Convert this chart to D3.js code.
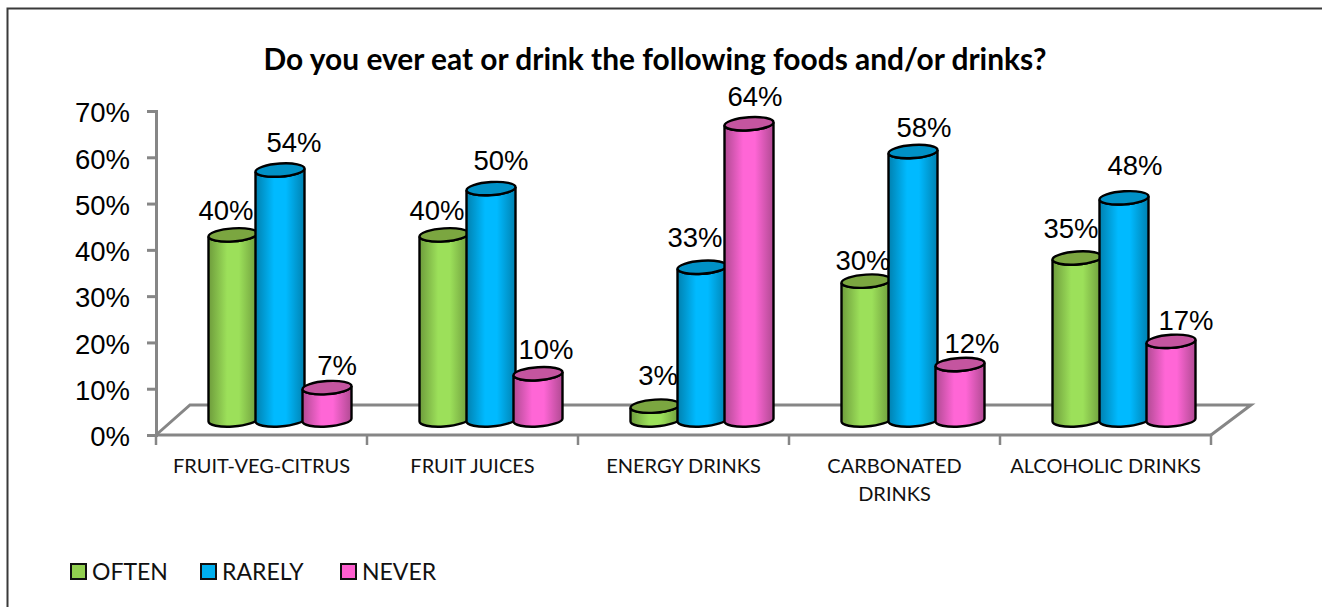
<!DOCTYPE html>
<html><head><meta charset="utf-8">
<script src="https://cdnjs.cloudflare.com/ajax/libs/d3/7.8.5/d3.min.js"></script>
<style>html,body{margin:0;padding:0;background:#fff;overflow:hidden}svg{display:block}</style>
</head><body><svg id="c" width="1322" height="607"></svg>
<script>
const titleText = "Do you ever eat or drink the following foods and/or drinks?";
const categories = ["FRUIT-VEG-CITRUS","FRUIT JUICES","ENERGY DRINKS","CARBONATED DRINKS","ALCOHOLIC DRINKS"];
const seriesNames = ["OFTEN","RARELY","NEVER"];
const often = [40,40,3,30,35];
const rarely = [54,50,33,58,48];
const never = [7,10,64,12,17];
const yTicks = [0,10,20,30,40,50,60,70];

const seriesValues = [often, rarely, never];
const palettes = [
  {id:"g", edge:"#6e9c3c", mid:"#9ce05a", top:"#7ba640", swatch:"#92d050"},
  {id:"b", edge:"#0081b0", mid:"#00baff", top:"#0091c6", swatch:"#00b0f0"},
  {id:"p", edge:"#b04a92", mid:"#ff66d6", top:"#c4559f", swatch:"#ff5fd0"}
];
// hand-placed data labels in the original: [dx, dy] from the top of each cylinder, per series then category
const labelNudge = [
  [[-7,-25],[-7,-25],[3,-31],[-3,-21],[-6,-30]],
  [[14,-28],[10,-28],[-7,-30],[11,-24],[11,-33]],
  [[10,-23],[8,-25],[6,-28],[12,-21],[15,-21]]
];

const svg = d3.select("#c");
const axisCol = "#868686";
const x0 = 156, x1 = 1211, y0 = 435, y70 = 111;
const depthX = 40, floorRise = 30, floorInset = 34;
const barStep = 47, barW = 49, rise = 15, ry = 6.5, tilt = 1.6;

const x = d3.scaleBand().domain(categories).range([x0, x1]);
const y = d3.scaleLinear().domain([0,70]).range([y0, y70]);
const xs = d3.scaleLinear().domain([0,2]).range([-barStep, barStep]);
const groupShift = 18.5;

// frame
svg.append("path").attr("d","M7.5,607V8.5H1322").attr("fill","none").attr("stroke","#3a3a3a").attr("stroke-width",2);

// gradients
const defs = svg.append("defs");
palettes.forEach(p=>{
  const g = defs.append("linearGradient").attr("id","grad-"+p.id).attr("x1","0").attr("x2","1").attr("y1","0").attr("y2","0");
  [[0,p.edge],[0.38,p.mid],[0.62,p.mid],[1,p.edge]].forEach(s=>g.append("stop").attr("offset",s[0]).attr("stop-color",s[1]));
});

// title
svg.append("text").text(titleText).attr("x",655).attr("y",70)
  .attr("text-anchor","middle").attr("font-family","Lato, Carlito, sans-serif").attr("font-weight",700)
  .attr("font-size",29.9).attr("fill","#000");

// floor
svg.append("path").attr("fill","none").attr("stroke",axisCol).attr("stroke-width",3)
  .attr("d",`M${x0},${y0}L${x0+floorInset},${y0-floorRise}H${x1+depthX}L${x1},${y0}`);

// y axis
const yAxis = d3.axisLeft(y).tickValues(yTicks).tickFormat(d=>d+"%").tickSize(9).tickPadding(17);
const yG = svg.append("g").attr("transform",`translate(${x0},0)`).call(yAxis);
yG.select(".domain").attr("stroke",axisCol).attr("stroke-width",3);
yG.selectAll(".tick line").attr("stroke",axisCol).attr("stroke-width",3);
yG.selectAll(".tick text").attr("font-family","'Liberation Sans', Arial, sans-serif").attr("font-size",27.5).attr("fill","#000").attr("dy","0.39em");

// x axis
svg.append("line").attr("x1",x0).attr("x2",x1).attr("y1",y0).attr("y2",y0).attr("stroke",axisCol).attr("stroke-width",3);
const edges = categories.map(c=>x(c)).concat([x1]);
svg.selectAll(".xt").data(edges).join("line").attr("x1",d=>d).attr("x2",d=>d).attr("y1",y0).attr("y2",y0+10)
  .attr("stroke",axisCol).attr("stroke-width",2.5);

const catG = svg.selectAll(".cat").data(categories).join("text").attr("class","cat")
  .attr("text-anchor","middle").attr("font-family","Lato, Carlito, sans-serif").attr("font-size",20).attr("fill","#111");
catG.each(function(c){
  const t = d3.select(this);
  const lines = c === "CARBONATED DRINKS" ? c.split(" ") : [c];
  lines.forEach((l,i)=>t.append("tspan").attr("x",x(c)+x.bandwidth()/2).attr("y",473+i*28).text(l));
});

// cylinders
function cyl(cx, top, base){
  const a = cx-barW/2, b = cx+barW/2;
  return {
    body:`M${a},${top+tilt}L${a},${base+tilt}A${barW/2},${ry} -4 0 0 ${b},${base-tilt}L${b},${top-tilt}A${barW/2},${ry} -4 0 1 ${a},${top+tilt}Z`,
    cap:`M${a},${top+tilt}A${barW/2},${ry} -4 0 1 ${b},${top-tilt}A${barW/2},${ry} -4 0 1 ${a},${top+tilt}Z`
  };
}
const base = y(0)-rise;
seriesValues.forEach((vals,si)=>{
  const g = svg.append("g");
  const pal = palettes[si];
  categories.forEach((c,ci)=>{
    const cx = x(c)+x.bandwidth()/2+groupShift+xs(si);
    const shape = cyl(cx, y(vals[ci])-rise, base);
    g.append("path").attr("d",shape.body).attr("fill",`url(#grad-${pal.id})`).attr("stroke","#000").attr("stroke-width",2.4);
    g.append("path").attr("d",shape.cap).attr("fill",pal.top).attr("stroke","#000").attr("stroke-width",2.4);
  });
});

// data labels
seriesValues.forEach((vals,si)=>{
  categories.forEach((c,ci)=>{
    const cx = x(c)+x.bandwidth()/2+groupShift+xs(si);
    const n = labelNudge[si][ci];
    svg.append("text").text(vals[ci]+"%").attr("x",cx+n[0]).attr("y",y(vals[ci])-rise+n[1]).attr("dy","0.36em")
      .attr("text-anchor","middle").attr("font-family","'Liberation Sans', Arial, sans-serif").attr("font-size",27.5).attr("fill","#000");
  });
});

// legend
const legX = [71,201,341];
const leg = svg.selectAll(".leg").data(seriesNames).join("g").attr("class","leg").attr("transform",(d,i)=>`translate(${legX[i]},564)`);
leg.append("rect").attr("width",15).attr("height",15).attr("fill",(d,i)=>palettes[i].swatch).attr("stroke","#111").attr("stroke-width",2);
leg.append("text").text(d=>d).attr("x",21).attr("y",16).attr("font-family","Lato, Carlito, sans-serif").attr("font-size",23).attr("fill","#111");
</script></body></html>
